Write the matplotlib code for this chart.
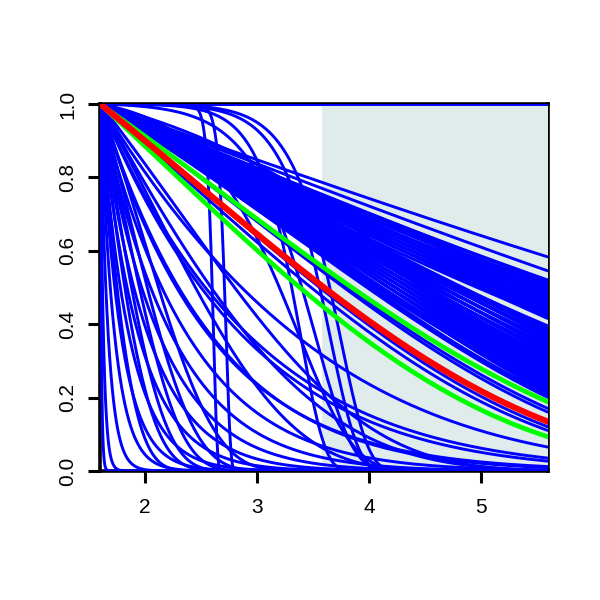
import numpy as np
import matplotlib
matplotlib.use("Agg")
import matplotlib.pyplot as plt
from matplotlib.patches import Rectangle

# ---- data ----
x_start, x_end = 1.6, 5.6
shade_from = 3.58

# slowly decaying curves: survival at x = 5.6 and curvature (Gompertz shape)
band_end = [0.583, 0.545,
            0.52, 0.515, 0.51, 0.505, 0.50, 0.495, 0.49, 0.485, 0.48, 0.475,
            0.47, 0.465, 0.46, 0.455, 0.45, 0.445, 0.44, 0.435, 0.43, 0.425,
            0.42, 0.415, 0.395, 0.39, 0.385, 0.38, 0.375, 0.37, 0.365, 0.36,
            0.355, 0.35, 0.345, 0.34, 0.335, 0.33, 0.325, 0.32, 0.315, 0.31,
            0.305, 0.30, 0.295, 0.29, 0.285, 0.28, 0.275, 0.27, 0.265, 0.26,
            0.255, 0.25, 0.245, 0.24, 0.235, 0.23, 0.225, 0.22, 0.215, 0.21,
            0.205, 0.20,
            0.17, 0.16, 0.12, 0.11, 0.065, 0.035, 0.012, 0.22, 0.25]
band_shape = [0.10, 0.13,
              0.12, 0.14, 0.10, 0.15, 0.12, 0.09, 0.16, 0.13, 0.11, 0.17,
              0.14, 0.12, 0.18, 0.15, 0.13, 0.19, 0.16, 0.14, 0.20, 0.17,
              0.15, 0.21, 0.18, 0.22, 0.19, 0.24, 0.20, 0.23, 0.26, 0.21,
              0.25, 0.27, 0.22, 0.26, 0.28, 0.24, 0.27, 0.29, 0.25, 0.30,
              0.28, 0.26, 0.31, 0.29, 0.27, 0.32, 0.30, 0.28, 0.33, 0.31,
              0.29, 0.34, 0.32, 0.30, 0.35, 0.33, 0.31, 0.34, 0.36, 0.32,
              0.35, 0.34,
              0.33, 0.34, 0.34, 0.33, 0.15, 0.08, 0.05, 0.65, 0.50]

# faster curves: x where survival = 0.5 and curvature
drop_mid = [1.607, 1.62, 1.65, 1.69, 1.73, 1.78, 1.84, 1.90, 1.97, 2.05,
            2.15, 2.30, 2.50,
            1.75, 1.82, 1.88, 1.95, 2.02, 2.12,
            2.59, 2.80, 2.45,
            2.60, 2.71, 3.35,
            3.31, 3.40, 3.56, 3.65, 3.20]
drop_shape = [0.02, 0.02, 0.05, 0.05, 0.05, 0.08, 0.08, 0.10, 0.10, 0.10,
              0.10, 0.10, 0.10,
              2.0, 1.8, 2.0, 2.0, 1.8, 1.6,
              0.45, 0.60, 0.80,
              30.0, 25.0, 40.0,
              4.6, 3.0, 4.0, 4.0, 2.0]

# highlighted curves
red_end, red_shape = 0.134, 0.32
green_end = [0.188, 0.093]
green_shape = [0.30, 0.33]

x = np.linspace(x_start, x_end, 1000)
t = x - x_start


def surv_from_end(e, k):
    a = -np.log(e) / np.expm1(k * (x_end - x_start))
    return np.exp(-a * np.expm1(k * t))


def surv_from_mid(m, k):
    a = np.log(2) / np.expm1(k * (m - x_start))
    return np.exp(-a * np.expm1(np.minimum(k * t, 50)))


plt.rcParams['font.family'] = ['Liberation Sans', 'DejaVu Sans']
fig = plt.figure(figsize=(6, 6), dpi=100)
ax = fig.add_axes([100.2 / 600, 129 / 600, 448 / 600, 367 / 600])

ax.add_patch(Rectangle((shade_from, 0), x_end - shade_from, 1.0,
                       facecolor='#E0ECEC', edgecolor='none', zorder=3))

blue_kw = dict(color='#0000FF', lw=2.1, zorder=4, solid_capstyle='butt')
for e, k in zip(band_end, band_shape):
    ax.plot(x, surv_from_end(e, k), **blue_kw)
for m, k in zip(drop_mid, drop_shape):
    ax.plot(x, surv_from_mid(m, k), **blue_kw)

for e, k in zip(green_end, green_shape):
    ax.plot(x, surv_from_end(e, k), color='#00FF00', lw=3.4, zorder=5)
ax.plot(x, surv_from_end(red_end, red_shape), color='#FF0000', lw=4.4,
        zorder=6)

ax.set_xlim(x_start, x_end)
ax.set_ylim(0, 1)
ax.set_xticks([2, 3, 4, 5])
ax.set_yticks([0, 0.2, 0.4, 0.6, 0.8, 1.0])
ax.set_yticklabels(['0.0', '0.2', '0.4', '0.6', '0.8', '1.0'], rotation=90,
                   va='center')
ax.tick_params(axis='both', length=8.5, width=2.2, labelsize=15,
               colors='black')
ax.tick_params(axis='x', pad=11)
ax.tick_params(axis='y', pad=8)
for s in ax.spines.values():
    s.set_linewidth(2.6)
    s.set_zorder(2.5)

fig.savefig('out.png', dpi=100, facecolor='white')
